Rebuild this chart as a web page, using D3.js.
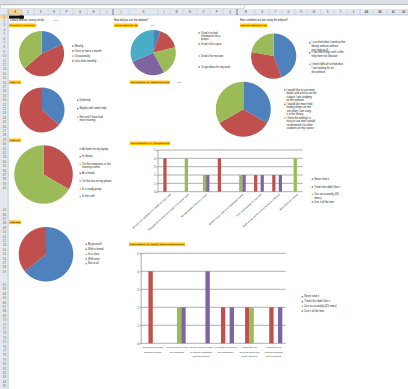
<!DOCTYPE html>
<html>
<head>
<meta charset="utf-8">
<script src="https://cdn.jsdelivr.net/npm/d3@7"></script>
<style>
  body { margin: 0; background: #fff; }
  svg { display: block; }
  text { font-family: "Liberation Sans", Arial, sans-serif; }
</style>
</head>
<body>
<svg id="sheet" width="408" height="389"></svg>
<script>
const palette = ['#4f81bd', '#c0504d', '#9bbb59', '#8064a2', '#4bacc6', '#f79646', '#7f9fcf'];

// ---- sheet chrome
const columnLetters = ['B','C','D','E','F','G','H','I','J','K','L','M','N','O','P','Q','R','S','T','U','V','W','X','Y','Z','AA','AB','AC','AD'];
const columnEdges = [8, 22, 34, 48, 60, 73, 87, 100, 113, 129, 158, 170, 183, 197, 210, 223, 237, 255, 269, 282, 295, 307, 321, 334, 347, 360, 373, 387, 400, 408];

// ---- pie 1: how often
const oftenLabels = ['Weekly', 'Once or twice a month', 'Occasionally', 'Less than monthly'];
const oftenValues = [2, 5, 4, 0];

// ---- pie 2: what for
const useLabels = ['Used it to find\ninformation for a\nproject', 'Used it for a quiz', 'Used it for revision', 'To get ideas for my work', ''];
const useValues = [1, 3, 4, 5, 6];

// ---- pie 3: confidence
const confLabels = ['I can find what I need on the\nlibrary website without\nany help at all', 'I can find things with a little\nhelp from the librarian', 'I find it difficult to find what\nI am looking for on\nthe website'];
const confValues = [4, 3, 2];

// ---- pie 4: recommend
const recLabels = ['Definitely', 'Maybe with some help', 'Not until I have had\nmore training'];
const recValues = [4, 7, 0];

// ---- pie 5: 3D statements
const stmtLabels = [
  'I would like to see more\nbooks and articles on the\nsubject I am studying\non the website',
  'I would like more help\nfinding things on the\nsite when I am using\nit in the library',
  'I think the website is\neasy to use and I would\nrecommend it to other\nstudents on my course'
];
const stmtValues = [1, 1, 1];

// ---- pie 6: where
const whereLabels = ['At home on my laptop', 'In library', 'On the computers in the\nlearning centre', 'At a friend', 'On the bus on my phone', 'In a study group', 'In the café'];
const whereValues = [0, 1, 2, 0, 0, 0, 0];

// ---- pie 7: how
const howLabels = ['By yourself', 'With a friend', 'In a class', 'With tutor', 'Not at all'];
const howValues = [9, 5, 0, 0, 0];

// ---- bar chart 1
const featureCats = [
  'Search the catalogue for books and journals',
  'Request items that are on loan from other sites',
  'Renew books that are on loan',
  '',
  'Access e-journals and databases online',
  'Find reading lists for courses',
  'Book study rooms and computers in library',
  'Ask a librarian online'
];
const featureSeriesLabels = ['Never tried it', 'Tried it but didn\'t like it', 'Use occasionally (4/5\ntimes)', 'Use it all the time'];
const featureNever = [0, 0, 0, 0, 0, 0, 0, 0];
const featureTried = [4, 0, 0, 4, 0, 2, 2, 0];
const featureSome  = [0, 4, 2, 0, 2, 0, 0, 4];
const featureAll   = [0, 0, 2, 0, 2, 2, 2, 0];

// ---- bar chart 2
const resourceCats = [
  'Subject guides and\ntutorials on skills',
  'Help sheets on using\nthe catalogue',
  'Online videos on how\nto search databases\nand find articles',
  'Help with referencing\nand plagiarism',
  'Information on\nopening hours and\nlibrary services',
  'Information on\ntraining sessions\nand inductions'
];
const resourceSeriesLabels = ['Never tried it', 'Tried it but didn\'t like it', 'Use occasionally (4/5 times)', 'Use it all the time'];
const resourceNever = [0, 0, 0, 0, 0, 0];
const resourceTried = [4, 0, 0, 2, 2, 2];
const resourceSome  = [0, 2, 0, 0, 2, 0];
const resourceAll   = [0, 2, 4, 2, 0, 2];

const yTicks = [0, 1, 2, 3, 4, 5];

const svg = d3.select('#sheet');

// ---------- chrome ----------
svg.append('rect').attr('x', 0).attr('y', 0).attr('width', 408).attr('height', 4.5).attr('fill', '#dde1e6');
svg.append('line').attr('x1', 0).attr('x2', 408).attr('y1', 4.6).attr('y2', 4.6).attr('stroke', '#8d949c').attr('stroke-width', 0.6);
svg.append('rect').attr('x', 0.5).attr('y', 5).attr('width', 244).attr('height', 3.6)
  .attr('fill', '#fff').attr('stroke', '#b6bcc4').attr('stroke-width', 0.5);
svg.append('rect').attr('x', 0).attr('y', 9).attr('width', 408).attr('height', 6).attr('fill', '#e4e8ee');
svg.append('rect').attr('x', 8).attr('y', 9).attr('width', 14).attr('height', 6).attr('fill', '#f8d48e');
svg.append('line').attr('x1', 0).attr('x2', 408).attr('y1', 15).attr('y2', 15).attr('stroke', '#9eb6ce').attr('stroke-width', 0.6);

const colHead = svg.append('g');
columnEdges.forEach((x, i) => {
  colHead.append('line').attr('x1', x).attr('x2', x).attr('y1', 9).attr('y2', 15)
    .attr('stroke', (x === 113 || x === 237) ? '#6c7480' : '#b3c0cf').attr('stroke-width', (x === 113 || x === 237) ? 0.9 : 0.5);
  if (i < columnLetters.length) {
    colHead.append('text').attr('x', (x + columnEdges[i + 1]) / 2).attr('y', 12.3)
      .attr('text-anchor', 'middle').attr('dominant-baseline', 'middle')
      .attr('font-size', 2.6).attr('fill', '#33414f').text(columnLetters[i]);
  }
});

// row headers
svg.append('rect').attr('x', 0).attr('y', 15).attr('width', 8).attr('height', 374).attr('fill', '#e4e8ee');
svg.append('rect').attr('x', 0).attr('y', 15).attr('width', 8).attr('height', 3.5).attr('fill', '#f8d48e');
svg.append('line').attr('x1', 8.2).attr('x2', 8.2).attr('y1', 9).attr('y2', 389).attr('stroke', '#9eb6ce').attr('stroke-width', 0.7);
const rowHead = svg.append('g');
for (let r = 0; r < 85; r++) {
  const y = 16.8 + r * 4.4;
  if (y > 190 && y < 207) continue;
  if (y > 276 && y < 281) continue;
  rowHead.append('text').attr('x', 4.4).attr('y', y).attr('text-anchor', 'middle')
    .attr('dominant-baseline', 'middle').attr('font-size', 2.8)
    .attr('fill', y > 338 ? '#3d6db0' : '#8a5634').text(r + 1);
}

// top cell content
svg.append('rect').attr('x', 9).attr('y', 15.6).attr('width', 14).attr('height', 3).attr('fill', '#111');
svg.append('rect').attr('x', 19.5).attr('y', 15.6).attr('width', 4.5).attr('height', 3).attr('fill', '#111');

function smallText(x, y, str, size, color) {
  svg.append('text').attr('x', x).attr('y', y).attr('dominant-baseline', 'middle')
    .attr('font-size', size || 2.8).attr('fill', color || '#222').text(str);
}

smallText(10, 20.4, 'Library website survey results', 2.6, '#111');
smallText(54, 20.4, '1/1', 2.4, '#555');
smallText(114, 20.4, 'How did you use the website?', 2.6, '#111');
smallText(240, 20.4, 'How confident are you using the website?', 2.6, '#111');

function tag(x, y, w, str) {
  svg.append('rect').attr('x', x).attr('y', y).attr('width', w).attr('height', 3.6).attr('fill', '#ffc000');
  svg.append('text').attr('x', x + 0.8).attr('y', y + 1.9).attr('dominant-baseline', 'middle')
    .attr('font-size', 2.5).attr('fill', '#3a2a00').attr('textLength', w - 1.6).attr('lengthAdjust', 'spacingAndGlyphs').text(str);
}
tag(9, 23.5, 27, 'Question 1: frequency');
tag(114, 23.5, 24, 'Question 2');
smallText(151, 25.2, '1/8', 2.4, '#555');
tag(240, 23.5, 27, 'Question 3');
smallText(265, 25.2, '0', 2.4, '#555');
tag(9, 80.5, 12, 'Q4');
tag(130, 80.5, 40, 'Question 5: statements');
smallText(178, 82.2, '3D', 2.4, '#555');
tag(9, 138.5, 12, 'Q6');
tag(130, 141.5, 40, 'Question 7: features');
tag(9, 220.5, 12, 'Q8');
tag(129, 242.5, 56, 'Question 9: help and resources');

// ---------- pies ----------
function drawPie(cfg) {
  const pie = d3.pie().sort(null).value(d => d);
  const arc = d3.arc().innerRadius(0).outerRadius(cfg.r);
  const g = svg.append('g').attr('transform', `translate(${cfg.cx},${cfg.cy})`);
  g.selectAll('path').data(pie(cfg.values)).join('path')
    .attr('d', arc)
    .attr('fill', (d, i) => palette[i]);

  const legend = svg.append('g').attr('transform', `translate(${cfg.lx},0)`);
  const count = cfg.legendCount || cfg.labels.length;
  for (let i = 0; i < count; i++) {
    const y = cfg.ly[i];
    legend.append('rect').attr('x', 0).attr('y', y - 0.7).attr('width', 1.4).attr('height', 1.4).attr('fill', palette[i]);
    cfg.labels[i].split('\n').forEach((line, j) => {
      legend.append('text').attr('x', 2.6).attr('y', y + j * (cfg.lineGap || 3.8))
        .attr('dominant-baseline', 'middle').attr('font-size', 2.7).attr('fill', '#222').text(line);
    });
  }
}

drawPie({ cx: 41.5, cy: 53.7, r: 22.6, values: oftenValues, labels: oftenLabels, lx: 72, ly: [46, 51, 56, 61] });
drawPie({ cx: 153.2, cy: 52.7, r: 22.6, values: useValues, labels: useLabels, legendCount: 4, lx: 198.5, ly: [33, 44, 56, 67], lineGap: 3.3 });
drawPie({ cx: 273.7, cy: 56, r: 22.6, values: confValues, labels: confLabels, lx: 309, ly: [42.7, 52.7, 64.3] });
drawPie({ cx: 42, cy: 110, r: 22.5, values: recValues, labels: recLabels, lx: 77, ly: [100.3, 108.7, 117], lineGap: 3.6 });
drawPie({ cx: 243.3, cy: 109.2, r: 27.5, values: stmtValues, labels: stmtLabels, lx: 284, ly: [90, 104.3, 118.3], lineGap: 3.4 });
drawPie({ cx: 43.5, cy: 174.5, r: 29.3, values: whereValues, labels: whereLabels, lx: 79.5, ly: [149, 156.7, 164.3, 173.3, 181, 189, 196.7], lineGap: 3.4 });
drawPie({ cx: 46, cy: 254.2, r: 27.3, values: howValues, labels: howLabels, lx: 85.5, ly: [244.3, 249.3, 254.3, 259, 263.7] });

// ---------- bars ----------
function drawBars(cfg) {
  const series = cfg.series;
  const x0 = d3.scaleBand().domain(d3.range(cfg.cats.length)).range([cfg.left, cfg.right]).paddingInner(cfg.gap).paddingOuter(cfg.gap / 2);
  const x1 = d3.scaleBand().domain(d3.range(series.length)).range([0, x0.bandwidth()]);
  const y = d3.scaleLinear().domain([0, 5]).range([cfg.bottom, cfg.top]);

  const g = svg.append('g');
  g.selectAll('line.grid').data(yTicks).join('line')
    .attr('x1', cfg.left).attr('x2', cfg.right)
    .attr('y1', d => y(d)).attr('y2', d => y(d))
    .attr('stroke', '#8c8c8c').attr('stroke-width', 0.7);

  const yAxis = d3.axisLeft(y).tickValues(yTicks).tickSize(1).tickPadding(1).tickFormat(d3.format('d'));
  const ya = g.append('g').attr('transform', `translate(${cfg.left},0)`).call(yAxis);
  ya.select('.domain').attr('stroke', '#8c8c8c').attr('stroke-width', 0.7);
  ya.selectAll('.tick line').attr('stroke', '#8c8c8c');
  ya.selectAll('text').attr('font-size', 2.6).attr('fill', '#333').attr('font-family', '"Liberation Sans", Arial, sans-serif');

  series.forEach((vals, s) => {
    g.selectAll(null).data(vals).join('rect')
      .attr('x', (d, i) => x0(i) + x1(s))
      .attr('y', d => y(d))
      .attr('width', x1.bandwidth())
      .attr('height', d => cfg.bottom - y(d))
      .attr('fill', palette[s]);
  });

  // category labels
  cfg.cats.forEach((c, i) => {
    const cx = x0(i) + x0.bandwidth() / 2;
    if (cfg.rotate) {
      g.append('text').attr('transform', `translate(${cx + 4},${cfg.bottom + 2.5}) rotate(-42)`)
        .attr('text-anchor', 'end').attr('dominant-baseline', 'middle')
        .attr('font-size', 2.6).attr('fill', '#333').text(c);
    } else {
      c.split('\n').forEach((line, j) => {
        g.append('text').attr('x', cx).attr('y', cfg.bottom + 4.5 + j * 4.2)
          .attr('text-anchor', 'middle').attr('dominant-baseline', 'middle')
          .attr('font-size', 2.4).attr('fill', '#333').text(line);
      });
    }
  });

  const legend = svg.append('g').attr('transform', `translate(${cfg.lx},0)`);
  cfg.seriesLabels.forEach((lab, i) => {
    const ly = cfg.ly[i];
    legend.append('rect').attr('x', 0).attr('y', ly - 0.7).attr('width', 1.4).attr('height', 1.4).attr('fill', palette[i]);
    lab.split('\n').forEach((line, j) => {
      legend.append('text').attr('x', 2.6).attr('y', ly + j * 3.6).attr('dominant-baseline', 'middle')
        .attr('font-size', 2.6).attr('fill', '#222').text(line);
    });
  });
}

drawBars({
  cats: featureCats, series: [featureNever, featureTried, featureSome, featureAll],
  seriesLabels: featureSeriesLabels,
  left: 157.5, right: 302.7, top: 150, bottom: 191.7, gap: 0.28, rotate: true,
  lx: 311.7, ly: [179, 187, 194.3, 202]
});
drawBars({
  cats: resourceCats, series: [resourceNever, resourceTried, resourceSome, resourceAll],
  seriesLabels: resourceSeriesLabels,
  left: 140.7, right: 285.7, top: 253.3, bottom: 343.3, gap: 0.28, rotate: false,
  lx: 301.7, ly: [296.7, 301.7, 306.2, 311]
});
</script>
</body>
</html>
